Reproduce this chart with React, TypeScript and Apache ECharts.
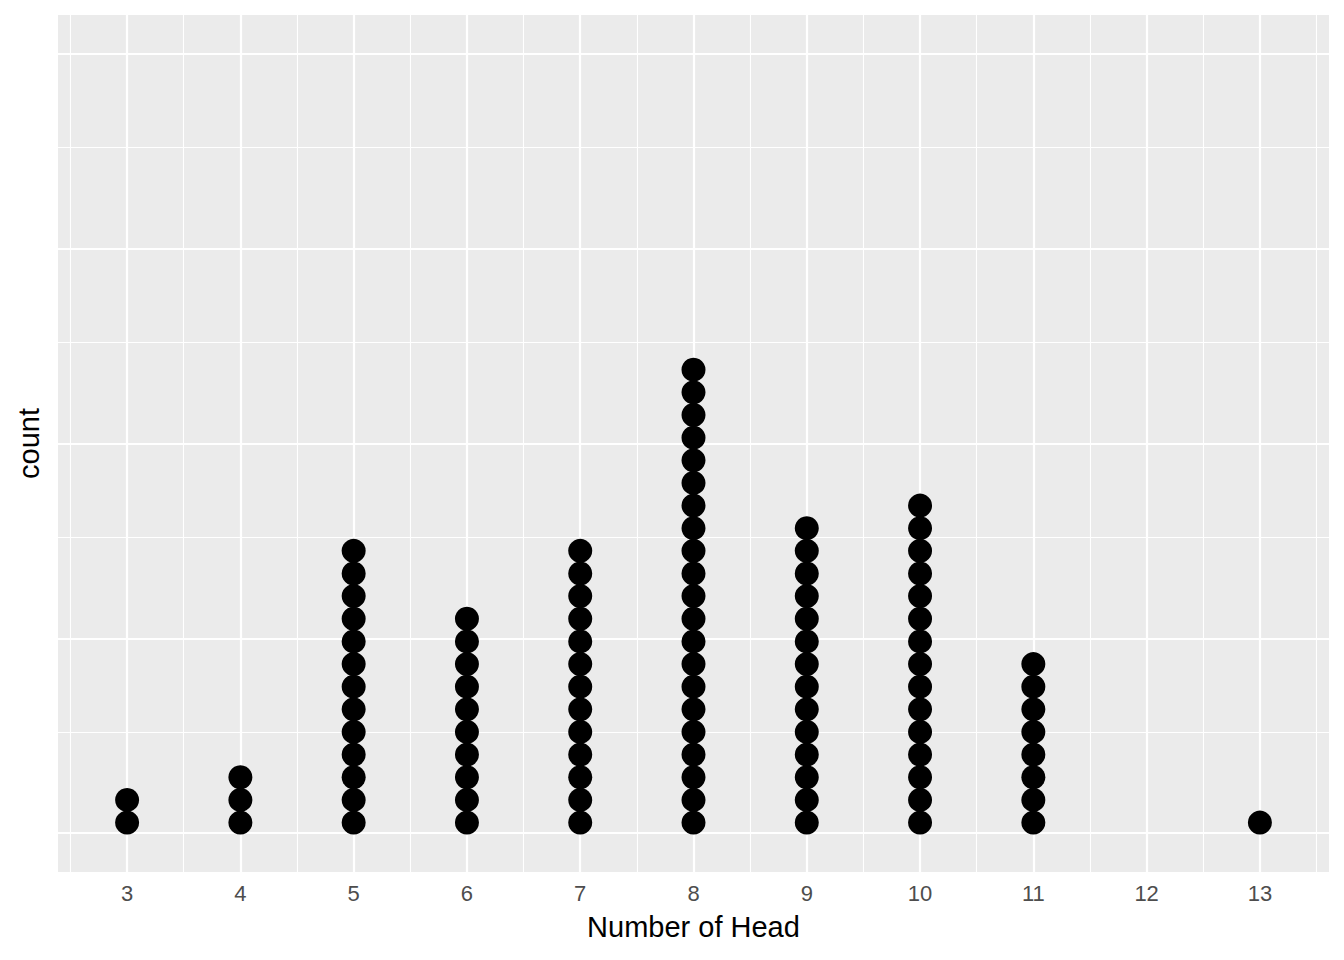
import React, { useEffect, useRef } from "react";
import * as echarts from "echarts";

const heads = [3, 4, 5, 6, 7, 8, 9, 10, 11, 12, 13];
const counts = [2, 3, 13, 10, 13, 21, 14, 15, 8, 0, 1];
const xMajor = [3, 4, 5, 6, 7, 8, 9, 10, 11, 12, 13];
const xMinor = [2.5, 3.5, 4.5, 5.5, 6.5, 7.5, 8.5, 9.5, 10.5, 11.5, 12.5, 13.5];
const yMajor = [0, 0.25, 0.5, 0.75, 1];
const yMinor = [0.125, 0.375, 0.625, 0.875];

// dot stacking in y-axis units (ggplot dotplot normalised scale)
const firstDot = 0.0135;
const dotStep = 0.02906;

const FONT = "'Liberation Sans', Arial, Helvetica, sans-serif";

export default function App() {
  const ref = useRef<HTMLDivElement>(null);
  useEffect(() => {
    if (!ref.current) return;
    const chart = echarts.init(ref.current, null, { renderer: "svg" });
    const dots: number[][] = [];
    heads.forEach((h, i) => {
      for (let k = 0; k < counts[i]; k++) dots.push([h, firstDot + k * dotStep]);
    });
    const majorStyle = { color: "#FFFFFF", width: 2.2, type: "solid" as const, opacity: 1 };
    const minorStyle = { color: "#FFFFFF", width: 1.1, type: "solid" as const, opacity: 1 };
    const gridLines = [
      ...xMinor.map((v) => ({ xAxis: v, lineStyle: minorStyle })),
      ...yMinor.map((v) => ({ yAxis: v, lineStyle: minorStyle })),
      ...xMajor.map((v) => ({ xAxis: v, lineStyle: majorStyle })),
      ...yMajor.map((v) => ({ yAxis: v, lineStyle: majorStyle })),
    ];
    chart.setOption({
      animation: false,
      backgroundColor: "#FFFFFF",
      grid: {
        left: 58,
        right: 15,
        top: 15,
        bottom: 88,
        show: true,
        backgroundColor: "#EBEBEB",
        borderWidth: 0,
      },
      xAxis: {
        type: "value",
        min: 2.39,
        max: 13.61,
        name: "Number of Head",
        nameLocation: "middle",
        nameGap: 40,
        nameTextStyle: { color: "#000000", fontSize: 29, fontFamily: FONT },
        axisLine: { show: false },
        axisTick: {
          show: true,
          length: 5,
          customValues: xMajor,
          lineStyle: { color: "#333333", width: 2 },
        },
        axisLabel: {
          show: true,
          customValues: xMajor,
          color: "#4D4D4D",
          fontSize: 22,
          fontFamily: FONT,
          margin: 10,
        },
        splitLine: { show: false },
        minorSplitLine: { show: false },
      },
      yAxis: {
        type: "value",
        min: -0.05,
        max: 1.05,
        name: "count",
        nameLocation: "middle",
        nameGap: 15,
        nameRotate: 90,
        nameTextStyle: { color: "#000000", fontSize: 29, fontFamily: FONT },
        axisLine: { show: false },
        axisTick: { show: false },
        axisLabel: { show: false },
        splitLine: { show: false },
      },
      series: [
        {
          type: "scatter",
          data: [],
          silent: true,
          z: 1,
          markLine: {
            silent: true,
            symbol: ["none", "none"],
            label: { show: false },
            emphasis: { disabled: true },
            animation: false,
            data: gridLines,
          },
        },
        {
          type: "scatter",
          data: dots,
          symbol: "circle",
          symbolSize: 24,
          z: 5,
          itemStyle: { color: "#000000", opacity: 1 },
        },
      ],
    });
    return () => chart.dispose();
  }, []);
  return <div ref={ref} style={{ width: 1344, height: 960, margin: -8 }} />;
}
